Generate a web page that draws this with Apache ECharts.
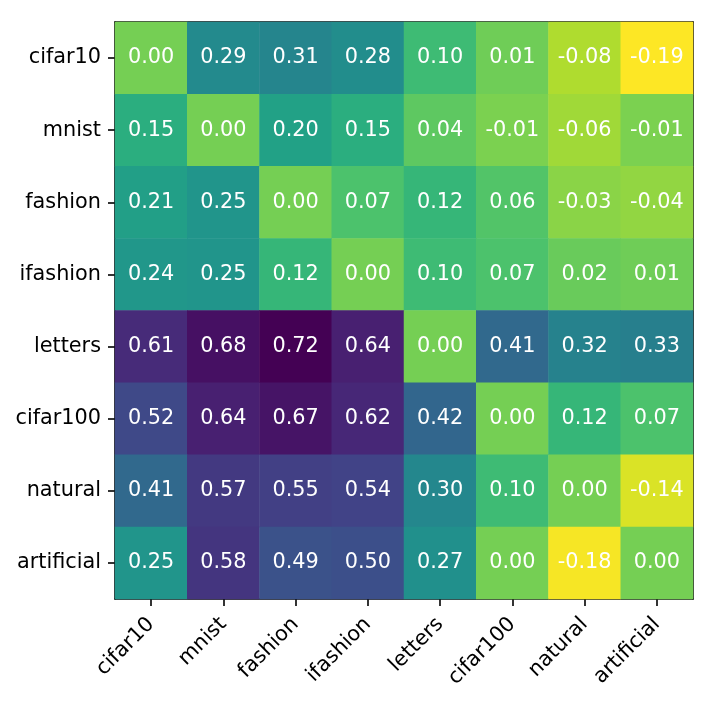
<!DOCTYPE html>
<html>
<head>
<meta charset="utf-8">
<script src="https://cdn.jsdelivr.net/npm/echarts@6/dist/echarts.min.js"></script>
<style>
  html, body { margin: 0; padding: 0; background: #fff; }
  #chart { width: 716px; height: 705px; }
</style>
</head>
<body>
<div id="chart"></div>
<script>
const datasets = ['cifar10', 'mnist', 'fashion', 'ifashion', 'letters', 'cifar100', 'natural', 'artificial'];

// one row per dataset (y axis, top to bottom)
const rowCifar10 = [0.00, 0.29, 0.31, 0.28, 0.10, 0.01, -0.08, -0.19];
const rowMnist = [0.15, 0.00, 0.20, 0.15, 0.04, -0.01, -0.06, -0.01];
const rowFashion = [0.21, 0.25, 0.00, 0.07, 0.12, 0.06, -0.03, -0.04];
const rowIfashion = [0.24, 0.25, 0.12, 0.00, 0.10, 0.07, 0.02, 0.01];
const rowLetters = [0.61, 0.68, 0.72, 0.64, 0.00, 0.41, 0.32, 0.33];
const rowCifar100 = [0.52, 0.64, 0.67, 0.62, 0.42, 0.00, 0.12, 0.07];
const rowNatural = [0.41, 0.57, 0.55, 0.54, 0.30, 0.10, 0.00, -0.14];
const rowArtificial = [0.25, 0.58, 0.49, 0.50, 0.27, 0.00, -0.18, 0.00];

const rows = [rowCifar10, rowMnist, rowFashion, rowIfashion, rowLetters, rowCifar100, rowNatural, rowArtificial];

// viridis, reversed (low values -> yellow)
const viridisR = ['#fde725', '#bddf26', '#7ad151', '#44bf70', '#22a884', '#21918c',
                  '#2a788e', '#355f8d', '#414487', '#482475', '#440154'];

let cells = [];
rows.forEach((row, y) => {
  row.forEach((v, x) => cells.push([x, y, v]));
});

const font = 'DejaVu Sans';
const fsize = 20.8;
const chart = echarts.init(document.getElementById('chart'));
chart.setOption({
  animation: false,
  textStyle: {fontFamily: font},
  grid: {left: 115, right: 23, top: 22, bottom: 106},
  visualMap: {
    show: false,
    min: -0.19,
    max: 0.72,
    calculable: false,
    inRange: {color: viridisR}
  },
  xAxis: [{
    type: 'category',
    data: datasets,
    splitArea: {show: false},
    axisLine: {show: true, lineStyle: {color: '#000', width: 1.6}},
    axisTick: {show: true, alignWithLabel: true, length: 7, lineStyle: {color: '#000', width: 1.6}},
    axisLabel: {rotate: 45, margin: 22, color: '#000', fontSize: fsize, fontFamily: font, interval: 0}
  }, {
    type: 'category',
    position: 'top',
    data: datasets,
    axisLine: {show: true, lineStyle: {color: '#000', width: 1.6}},
    axisTick: {show: false},
    axisLabel: {show: false}
  }],
  yAxis: [{
    type: 'category',
    data: datasets,
    inverse: true,
    splitArea: {show: false},
    axisLine: {show: true, lineStyle: {color: '#000', width: 1.6}},
    axisTick: {show: true, alignWithLabel: true, length: 7, lineStyle: {color: '#000', width: 1.6}},
    axisLabel: {margin: 14, color: '#000', fontSize: fsize, fontFamily: font, interval: 0}
  }, {
    type: 'category',
    position: 'right',
    data: datasets,
    inverse: true,
    axisLine: {show: true, lineStyle: {color: '#000', width: 1.6}},
    axisTick: {show: false},
    axisLabel: {show: false}
  }],
  series: [{
    type: 'heatmap',
    data: cells,
    label: {
      show: true,
      color: '#fff',
      fontSize: fsize,
      fontFamily: font,
      formatter: p => p.value[2].toFixed(2)
    },
    itemStyle: {borderWidth: 0}
  }]
});
</script>
</body>
</html>
